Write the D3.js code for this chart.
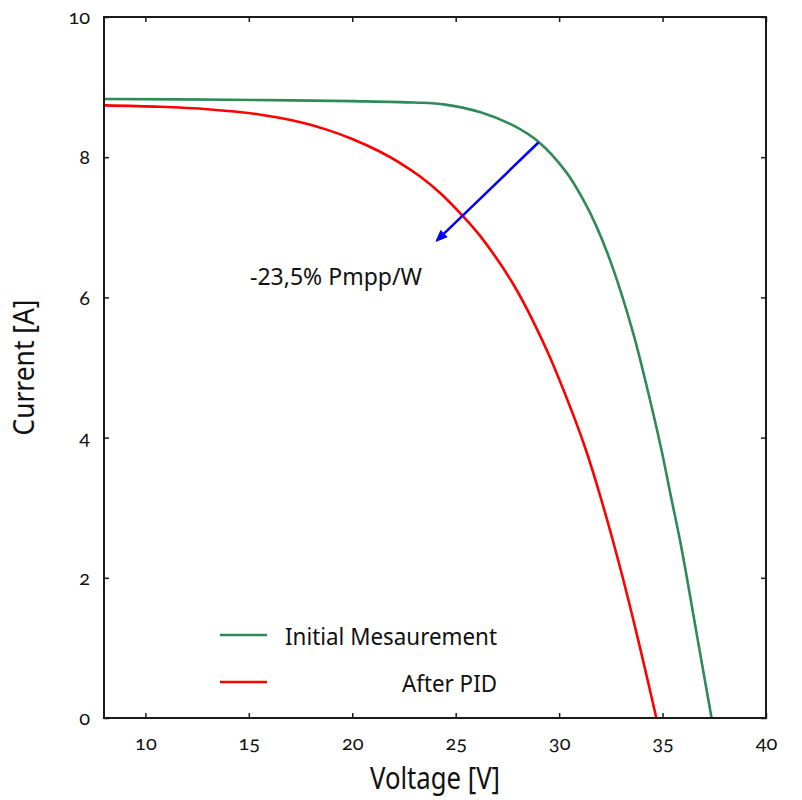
<!DOCTYPE html>
<html>
<head>
<meta charset="utf-8">
<script src="https://cdn.jsdelivr.net/npm/d3@7"></script>
<style>
  html, body { margin: 0; padding: 0; background: #fff; }
  svg { display: block; }
  text { font-family: "Noto Sans", "Open Sans", sans-serif; fill: #111; }
</style>
</head>
<body>
<svg id="chart" width="802" height="800"></svg>
<script>
// ---- data ----
const xTicks = [10, 15, 20, 25, 30, 35, 40];
const yTicks = [0, 2, 4, 6, 8, 10];

const initialVoltage = [8, 14, 20, 23, 24.5, 26.2, 27.8, 29.0, 30.36, 31.17, 31.81, 32.62, 33.58, 34.39, 34.95, 35.44, 35.93, 36.65, 37.37];
const initialCurrent = [8.83, 8.82, 8.80, 8.78, 8.75, 8.64, 8.45, 8.22, 7.78, 7.39, 7.01, 6.40, 5.49, 4.54, 3.82, 3.11, 2.40, 1.20, 0];

const pidVoltage = [8, 10.7, 13, 15.5, 17.5, 18.8, 20, 21.3, 22.3, 23.3, 24.3, 25.3, 26.2, 27.8, 29.4, 30.7, 31.3, 32.0, 32.9, 33.8, 34.7];
const pidCurrent = [8.74, 8.72, 8.685, 8.61, 8.50, 8.39, 8.26, 8.085, 7.92, 7.72, 7.475, 7.175, 6.87, 6.18, 5.25, 4.31, 3.82, 3.155, 2.20, 1.14, 0];

const seriesNames = ["Initial Mesaurement", "After PID"];
const arrowFrom = [29.0, 8.21];
const arrowTo = [24.05, 6.80];
const annotationText = "-23,5% Pmpp/W";
const xTitle = "Voltage [V]";
const yTitle = "Current [A]";

// ---- layout ----
const L = 104, R = 766, T = 17, B = 718;
const svg = d3.select("#chart");
const x = d3.scaleLinear().domain([8, 40]).range([L, R]);
const y = d3.scaleLinear().domain([0, 10]).range([B, T]);

const axisColor = "#1a1a1a";

// axes
const gB = svg.append("g").attr("transform", `translate(0,${B})`)
  .call(d3.axisBottom(x).tickValues(xTicks).tickSizeInner(-5).tickSizeOuter(0).tickPadding(0));
gB.selectAll("text").attr("y", 32).attr("dy", null);
const gT = svg.append("g").attr("transform", `translate(0,${T})`)
  .call(d3.axisTop(x).tickValues(xTicks).tickSizeInner(-5).tickSizeOuter(0).tickFormat(""));
const gL = svg.append("g").attr("transform", `translate(${L},0)`)
  .call(d3.axisLeft(y).tickValues(yTicks).tickSizeInner(-5).tickSizeOuter(0).tickPadding(14));
gL.selectAll("text").attr("dy", "0.33em");
const gR = svg.append("g").attr("transform", `translate(${R},0)`)
  .call(d3.axisRight(y).tickValues(yTicks).tickSizeInner(-5).tickSizeOuter(0).tickFormat(""));

[gB, gT, gL, gR].forEach(g => {
  g.select(".domain").remove();
  g.selectAll(".tick line").attr("stroke", axisColor).attr("stroke-width", 1.5);
  g.selectAll("text")
    .style("font-size", "20px")
    .style("font-family", "Lato, 'Noto Sans', sans-serif")
    .style("font-variant-numeric", "oldstyle-nums")
    .style("font-feature-settings", "'onum' 1")
    .attr("fill", "#111");
});

// curves
const line = d3.line().x(d => x(d[0])).y(d => y(d[1])).curve(d3.curveCatmullRom.alpha(0.5));
const initialData = initialVoltage.map((v, i) => [v, initialCurrent[i]]);
const pidData = pidVoltage.map((v, i) => [v, pidCurrent[i]]);

svg.append("path").datum(initialData).attr("d", line)
  .attr("fill", "none").attr("stroke", "#2e8b57").attr("stroke-width", 2.6);
svg.append("path").datum(pidData).attr("d", line)
  .attr("fill", "none").attr("stroke", "#ff0000").attr("stroke-width", 2.6);

// frame
svg.append("rect").attr("x", L).attr("y", T).attr("width", R - L).attr("height", B - T)
  .attr("fill", "none").attr("stroke", axisColor).attr("stroke-width", 2);

// arrow
const x1 = x(arrowFrom[0]), y1 = y(arrowFrom[1]), x2 = x(arrowTo[0]), y2 = y(arrowTo[1]);
const ang = Math.atan2(y2 - y1, x2 - x1);
const headLen = 11, headW = 4.5;
const bx = x2 - headLen * Math.cos(ang), by = y2 - headLen * Math.sin(ang);
svg.append("line").attr("x1", x1).attr("y1", y1).attr("x2", bx).attr("y2", by)
  .attr("stroke", "#0000ff").attr("stroke-width", 2.5);
svg.append("path")
  .attr("d", `M${x2},${y2} L${bx + headW * Math.sin(ang)},${by - headW * Math.cos(ang)} L${bx - headW * Math.sin(ang)},${by + headW * Math.cos(ang)} Z`)
  .attr("fill", "#0000ff").attr("stroke", "#0000ff").attr("stroke-width", 1);

// annotation
svg.append("text").attr("x", 250).attr("y", 285)
  .style("font-size", "24px")
  .attr("textLength", 172).attr("lengthAdjust", "spacingAndGlyphs")
  .text(annotationText);

// legend
const legendColors = ["#2e8b57", "#ff0000"];
const legendY = [635, 682];
seriesNames.forEach((name, i) => {
  svg.append("line").attr("x1", 220).attr("x2", 267)
    .attr("y1", legendY[i]).attr("y2", legendY[i])
    .attr("stroke", legendColors[i]).attr("stroke-width", 2.6);
});
svg.append("text").attr("x", 285).attr("y", 645)
  .style("font-size", "24px")
  .attr("textLength", 212).attr("lengthAdjust", "spacingAndGlyphs")
  .text(seriesNames[0]);
svg.append("text").attr("x", 402).attr("y", 692)
  .style("font-size", "24px")
  .attr("textLength", 95).attr("lengthAdjust", "spacingAndGlyphs")
  .text(seriesNames[1]);

// axis titles
svg.append("text").attr("x", 370).attr("y", 789)
  .style("font-size", "30px")
  .attr("textLength", 130).attr("lengthAdjust", "spacingAndGlyphs")
  .text(xTitle);
svg.append("text").attr("transform", `translate(34,${(T + B) / 2 + 68}) rotate(-90)`)
  .style("font-size", "29px")
  .attr("textLength", 136).attr("lengthAdjust", "spacingAndGlyphs")
  .text(yTitle);
</script>
</body>
</html>
